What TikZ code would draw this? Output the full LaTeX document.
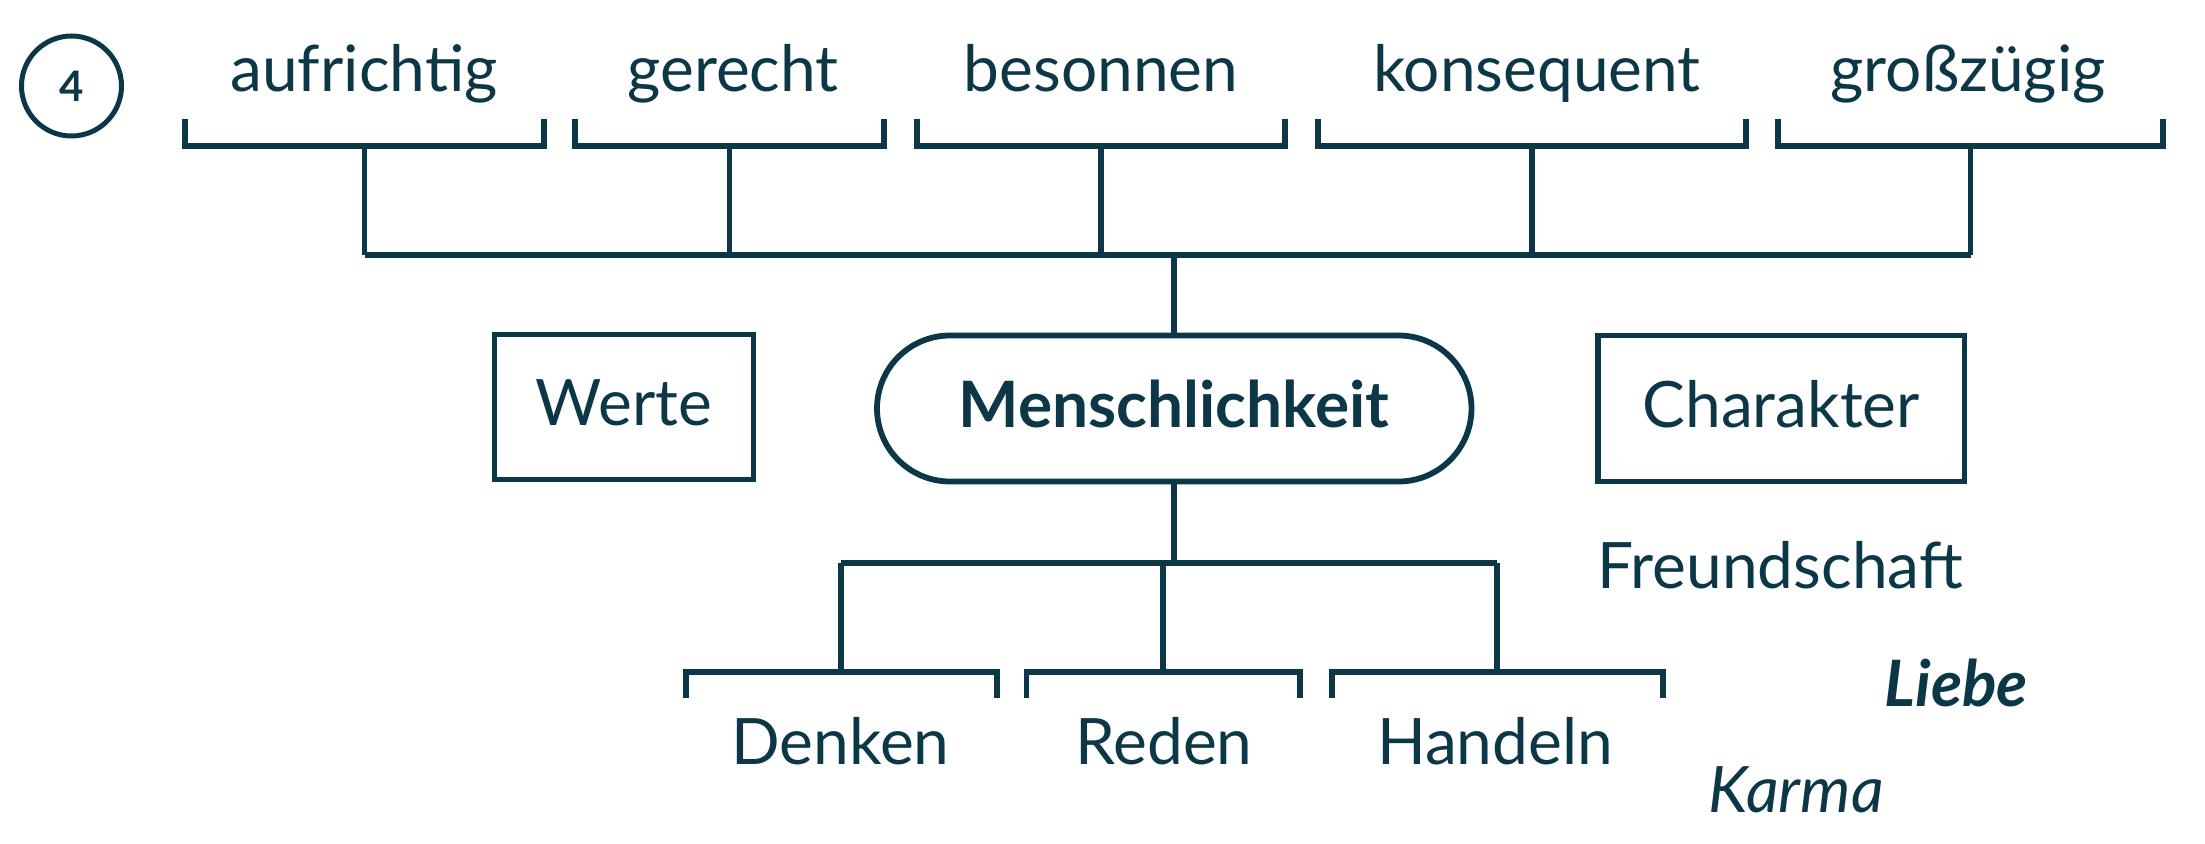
\documentclass[tikz,border=0pt]{standalone}
\usepackage{fontspec}
\setmainfont{Lato}
\definecolor{ink}{HTML}{0B3746}
\begin{document}
\begin{tikzpicture}[x=0.5pt,y=-0.5pt,color=ink,line width=2.9pt,line join=miter,
  word/.style={font=\fontsize{32}{38}\selectfont,anchor=base,inner sep=0pt,text=ink},
  boxed/.style={draw,inner sep=0pt,font=\fontsize{32}{38}\selectfont,text height=20pt,text depth=1pt,text=ink},
  pill/.style={boxed,rounded corners=36.5pt,font=\fontsize{32}{38}\selectfont\bfseries}]
\useasboundingbox (0,0) rectangle (2205,844);

% number badge
\node[circle,draw,line width=2.5pt,minimum size=50pt,inner sep=0pt,
      font=\fontsize{21}{24}\selectfont\bfseries,text=ink] (num) at (71.5,86) {4};

% top words with brackets
\coordinate (hub) at (1174.25,254.8);
\foreach \n/\t/\cx/\l/\r in {auf/aufrichtig/364/185/544,ger/gerecht/733/575/884,bes/besonnen/1101/917/1285,kon/konsequent/1537/1318/1746,gro/großzügig/1968/1778/2163}{
  \node[word] (\n) at (\cx,92) {\t};
  \coordinate (\n-l) at (\l,119.3);
  \coordinate (\n-r) at (\r,119.3);
  \coordinate (\n-s) at ({(\l+\r)/2},145.8);
  \draw (\n-l) -- (\n-l |- \n-s) -- (\n-r |- \n-s) -- (\n-r);
  \draw (\n-s) -- (\n-s |- hub);
}
\draw (auf-s |- hub) -- (gro-s |- hub);

% middle row
\node[boxed,minimum width=129.5pt,minimum height=72.5pt] (werte) at (624,407) {Werte};
\node[pill,minimum width=297.25pt,minimum height=73pt] (mensch) at (1174.25,408.5) {Menschlichkeit};
\node[boxed,minimum width=183.25pt,minimum height=73pt] (char) at (1781.25,408.5) {Charakter};
\draw (hub) -- (mensch.north);

% lower tree
\coordinate (hub2) at (1174.25,563);
\draw (mensch.south) -- (hub2);
\foreach \n/\t/\cx/\l/\r in {den/Denken/840.5/685.6/997,red/Reden/1164/1026.5/1300,han/Handeln/1495/1331.7/1662.8}{
  \node[word] (\n) at (\cx,764) {\t};
  \coordinate (\n-l) at (\l,698);
  \coordinate (\n-r) at (\r,698);
  \coordinate (\n-s) at ({(\l+\r)/2},672);
  \draw (\n-l) -- (\n-l |- \n-s) -- (\n-r |- \n-s) -- (\n-r);
  \draw (\n-s) -- (\n-s |- hub2);
}
\draw (den-s |- hub2) -- (han-s |- hub2);

% side words
\node[word] (freund) at (1780,588) {Freundschaft};
\node[word,font=\fontsize{32}{38}\selectfont\bfseries\itshape] (liebe) at (1956.5,706) {Liebe};
\node[word,font=\fontsize{32}{38}\selectfont\itshape] (karma) at (1796,812) {Karma};
\end{tikzpicture}
\end{document}
